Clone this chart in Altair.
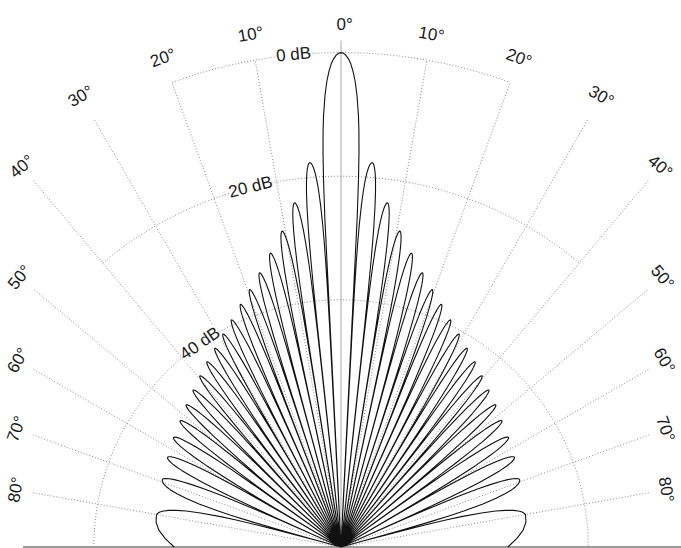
import math

import altair as alt
import pandas as pd

# ---------------------------------------------------------------------------
# Array pattern, dB relative to the main-beam peak (right half; the pattern is
# symmetric about broadside, so the left half is its mirror image).
# ---------------------------------------------------------------------------
peak_deg = [0.0, 4.64, 7.68, 10.56, 13.5, 16.53, 19.54, 22.49, 25.75, 28.99,
            32.4, 35.9, 39.5, 43.3, 47.45, 51.87, 56.78, 62.64, 69.33, 80.17]
peak_db = [0.0, -17.6, -23.8, -28.0, -31.1, -33.7, -35.8, -37.5, -39.2, -40.6,
           -41.9, -43.0, -44.1, -45.1, -46.0, -46.9, -47.6, -48.4, -49.1, -49.7]
null_deg = [2.9, 6.15, 9.1, 12.0, 15.0, 18.0, 21.0, 24.1, 27.35, 30.7,
            34.15, 37.7, 41.4, 45.35, 49.65, 54.3, 59.7, 66.0, 74.75]
# past the last sidelobe the pattern rolls off toward endfire without a null
tail_deg = [82.3, 84.7, 87.2, 90.0]
tail_db = [-49.8, -50.4, -51.5, -53.0]

# Polar grid
ring_db = [0, -20, -40]
ring_halfspan_deg = [20, 40, 90]
spoke_deg = [-80, -70, -60, -50, -40, -30, -20, -10, 10, 20, 30, 40, 50, 60, 70, 80]
db_label_text = ["0 dB", "20 dB", "40 dB"]
db_label_deg = [-5.5, -14.1, -34.7]

# Radial scale: -80 dB sits at the origin
FLOOR_DB = -80
PX_PER_DB = 6.18
R_OUTER = -FLOOR_DB * PX_PER_DB          # radius of the 0 dB ring
HALF_W = 308                              # horizontal reach of the long spokes

# Shape of one lobe flank: fraction of the way from null to peak, and the
# level below the lobe peak at that point.
FLANK_FRAC = [0.03, 0.06, 0.10, 0.15, 0.20, 0.30, 0.40, 0.50, 0.60, 0.70, 0.80, 0.90]
FLANK_DROP = [-26.6, -20.5, -16.1, -12.6, -10.2, -6.9, -4.6, -3.0, -1.8, -1.0, -0.44, -0.11]


def flank(null_a, peak_a, level, rising):
    seq = list(zip(FLANK_FRAC, FLANK_DROP))
    if not rising:
        seq = seq[::-1]
    return [(null_a + f * (peak_a - null_a), level + d) for f, d in seq]


right = [(peak_deg[0], peak_db[0])]
right += flank(null_deg[0], peak_deg[0], peak_db[0], rising=False)
right.append((null_deg[0], FLOOR_DB))
for k in range(1, len(peak_deg)):
    right += flank(null_deg[k - 1], peak_deg[k], peak_db[k], rising=True)
    right.append((peak_deg[k], peak_db[k]))
    if k < len(null_deg):
        right += flank(null_deg[k], peak_deg[k], peak_db[k], rising=False)
        right.append((null_deg[k], FLOOR_DB))
right += list(zip(tail_deg, tail_db))
left = [(-a, d) for a, d in right[1:]][::-1]
curve = left + right

pattern_df = pd.DataFrame(
    {"i": range(len(curve)), "theta": [c[0] for c in curve], "db": [c[1] for c in curve]}
)

# dB rings as arcs
ring_rows = []
for db, span in zip(ring_db, ring_halfspan_deg):
    for j, a in enumerate(range(-span, span + 1)):
        ring_rows.append({"ring": db, "i": j, "theta": a, "db": db})
rings_df = pd.DataFrame(ring_rows)


def spoke_end(a):
    s = abs(math.sin(math.radians(a)))
    return R_OUTER if s == 0 else min(R_OUTER, HALF_W / s)


spoke_rows, label_rows = [], []
for a in spoke_deg:
    end = spoke_end(a)
    spoke_rows += [{"spoke": a, "i": 0, "theta": a, "r": 0},
                   {"spoke": a, "i": 1, "theta": a, "r": end}]
    lab_r = 520 if abs(a) <= 30 else end + 17
    label_rows.append({"theta": a, "r": lab_r, "text": f"{abs(a)}\u00b0", "rot": (a + 360) % 360})
spokes_df = pd.DataFrame(spoke_rows)

# broadside line (slightly longer than the 0 dB ring) and its label
axis0_df = pd.DataFrame({"spoke": [0, 0], "i": [0, 1], "theta": [0, 0], "r": [0, R_OUTER + 12]})
label_rows.append({"theta": 0.4, "r": R_OUTER + 28, "text": "0\u00b0", "rot": 0})
labels_df = pd.DataFrame(label_rows)

# endfire baseline running out to the frame edges
base_df = pd.DataFrame({"spoke": [-90, -90, 90, 90], "i": [0, 1, 0, 1],
                        "theta": [-90, -90, 90, 90], "r": [0, 318, 0, 340]})

dblab_df = pd.DataFrame({"theta": db_label_deg, "db": ring_db, "text": db_label_text})
dblab_df["rot"] = (dblab_df["theta"] + 360) % 360
dblab_df["box"] = [(8 * len(t) + 5) ** 2 for t in db_label_text]

# ---------------------------------------------------------------------------
W, H = 681, 548
CX = 341
x_enc = alt.X("x:Q", axis=None, scale=alt.Scale(domain=[-CX, W - CX], nice=False, zero=False))
y_enc = alt.Y("y:Q", axis=None, scale=alt.Scale(domain=[-1, H - 1], nice=False, zero=False))

r_from_db = f"max(0, datum.db - ({FLOOR_DB})) * {PX_PER_DB}"
to_x = "datum.r * sin(datum.theta * PI / 180)"
to_y = "datum.r * cos(datum.theta * PI / 180)"

GRID = "#8c8c8c"
FONT = "Liberation Sans"
FONT_SIZE = 17

rings = alt.Chart(rings_df).transform_calculate(r=r_from_db).transform_calculate(
    x=to_x, y=to_y
).mark_line(color=GRID, strokeWidth=1, strokeDash=[1, 2]).encode(
    x=x_enc, y=y_enc, detail="ring:N", order="i:Q"
)

spokes = alt.Chart(spokes_df).transform_calculate(x=to_x, y=to_y).mark_line(
    color=GRID, strokeWidth=1, strokeDash=[1, 2]
).encode(x=x_enc, y=y_enc, detail="spoke:N", order="i:Q")

axis0 = alt.Chart(axis0_df).transform_calculate(x=to_x, y=to_y).mark_line(
    color="#a8a8a8", strokeWidth=1
).encode(x=x_enc, y=y_enc, detail="spoke:N", order="i:Q")

baseline = alt.Chart(base_df).transform_calculate(x=to_x, y=to_y).mark_line(
    color="#9a9a9a", strokeWidth=2
).encode(x=x_enc, y=y_enc, detail="spoke:N", order="i:Q")

db_boxes = alt.Chart(dblab_df).transform_calculate(r=r_from_db).transform_calculate(
    x=to_x, y=to_y
).mark_point(
    shape="M-1,-0.36L1,-0.36L1,0.36L-1,0.36Z", filled=True, fill="white", opacity=1, strokeWidth=0
).encode(
    x=x_enc, y=y_enc,
    size=alt.Size("box:Q", scale=None, legend=None),
    angle=alt.Angle("rot:Q", scale=None),
)

db_text = alt.Chart(dblab_df).transform_calculate(r=r_from_db).transform_calculate(
    x=to_x, y=to_y
).mark_text(font=FONT, fontSize=FONT_SIZE, color="#1a1a1a", align="center", baseline="middle").encode(
    x=x_enc, y=y_enc, text="text:N", angle=alt.Angle("rot:Q", scale=None)
)

angle_text = alt.Chart(labels_df).transform_calculate(x=to_x, y=to_y).mark_text(
    font=FONT, fontSize=FONT_SIZE, color="#1a1a1a", align="center", baseline="middle"
).encode(x=x_enc, y=y_enc, text="text:N", angle=alt.Angle("rot:Q", scale=None))

pattern = alt.Chart(pattern_df).transform_calculate(r=r_from_db).transform_calculate(
    x=to_x, y=to_y
).mark_line(color="#111111", strokeWidth=1.1, strokeJoin="round").encode(
    x=x_enc, y=y_enc, order="i:Q"
)

chart = alt.layer(
    rings, spokes, axis0, baseline, db_boxes, db_text, angle_text, pattern
).properties(
    width=W, height=H, padding=0, autosize=alt.AutoSizeParams(type="none"), background="white"
).configure_view(stroke=None)

chart.save("out.html", embed_options={"renderer": "svg", "actions": False})
